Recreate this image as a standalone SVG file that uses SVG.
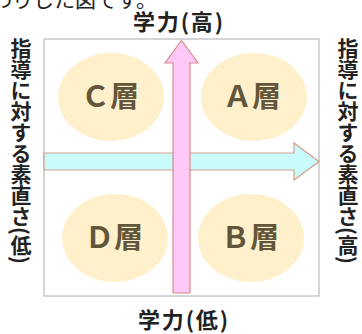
<svg xmlns="http://www.w3.org/2000/svg" width="362" height="334" viewBox="0 0 362 334">
<style>
.t{font-family:"Noto Sans CJK JP","Noto Sans",sans-serif;font-weight:bold;fill:#222;}
.v{writing-mode:vertical-rl;font-size:21px;}
.h{font-size:22px;text-anchor:middle;}
.q{font-family:"Noto Sans CJK JP","Noto Sans",sans-serif;font-weight:bold;font-size:29px;fill:#62563a;text-anchor:middle;}
.e{fill:#fff0cc;}
</style>
<rect width="362" height="334" fill="#fff"/>
<text x="-9" y="7" font-family="Noto Sans CJK JP, sans-serif" font-size="21" fill="#222">わりした図です。</text>
<rect x="44" y="39" width="275" height="257" fill="#fff" stroke="#c8c8c8" stroke-width="1.5"/>
<g id="C"><ellipse class="e" cx="111" cy="97" rx="53" ry="44"/><text class="q" x="110" y="107">Ｃ層</text></g>
<g id="A"><ellipse class="e" cx="254" cy="97" rx="53" ry="44"/><text class="q" x="252" y="107">Ａ層</text></g>
<g id="D"><ellipse class="e" cx="115" cy="238" rx="53" ry="44"/><text class="q" x="114" y="248">Ｄ層</text></g>
<g id="B"><ellipse class="e" cx="251" cy="238" rx="53" ry="44"/><text class="q" x="250" y="248">Ｂ層</text></g>
<g id="connectors">
<polygon points="44,153 294,153 294,143 319,161.5 294,180 294,170 44,170" fill="#c8fbfa" stroke="#d4a08c" stroke-width="1.2"/>
<polygon points="173,293 173,63 165,63 181.5,40.5 198,63 190,63 190,293" fill="#ffc8f7" stroke="#d48c8c" stroke-width="1.2"/>
</g>
<g id="top"><text class="t h" x="178" y="30" textLength="90" lengthAdjust="spacing">学力(高)</text></g>
<g id="bottom"><text class="t h" x="183" y="328" textLength="90" lengthAdjust="spacing">学力(低)</text></g>
<g id="left"><text class="t v" x="21" y="38">指導に対する素直さ(低)</text></g>
<g id="right"><text class="t v" x="348" y="38">指導に対する素直さ(高)</text></g>
</svg>
